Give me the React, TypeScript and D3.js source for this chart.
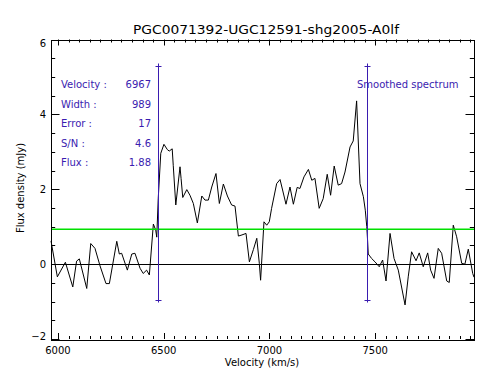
import React from "react";
import * as d3 from "d3";

const velocities = [5967, 5997, 6035, 6070, 6088, 6101, 6136, 6155, 6175, 6199, 6227, 6243, 6278, 6290, 6301, 6328, 6349, 6364, 6388, 6403, 6419, 6432, 6451, 6462, 6467, 6474, 6486, 6501, 6517, 6526, 6540, 6545, 6557, 6577, 6582, 6590, 6609, 6624, 6640, 6659, 6680, 6695, 6711, 6727, 6747, 6763, 6782, 6801, 6821, 6837, 6853, 6870, 6889, 6905, 6924, 6940, 6952, 6958, 6974, 6987, 6999, 7010, 7034, 7050, 7062, 7078, 7097, 7113, 7131, 7144, 7163, 7184, 7200, 7215, 7235, 7254, 7273, 7289, 7306, 7325, 7341, 7357, 7381, 7396, 7412, 7428, 7444, 7453, 7460, 7464, 7467, 7483, 7499, 7519, 7535, 7551, 7570, 7589, 7609, 7641, 7656, 7672, 7693, 7708, 7727, 7748, 7762, 7778, 7798, 7814, 7838, 7850, 7869, 7885, 7909, 7924, 7940, 7961, 7967];
const fluxes = [0.62, -0.34, 0.05, -0.61, 0.08, 0.14, -0.65, 0.55, 0.42, -0.05, -0.52, -0.52, 0.61, 0.27, 0.29, -0.16, 0.27, 0.29, -0.11, -0.25, -0.16, -0.29, 1.07, 0.91, 0.72, 1.75, 2.96, 3.2, 3.06, 3.02, 3.08, 2.64, 1.58, 2.6, 2.29, 1.78, 1.99, 1.84, 1.62, 1.1, 1.82, 1.71, 1.71, 2.06, 2.42, 1.62, 2.14, 1.82, 1.58, 1.55, 0.75, 0.78, 0.82, 0.06, 0.39, 0.69, 0.02, -0.43, 1.13, 1.04, 1.13, 1.49, 2.15, 2.26, 1.98, 1.6, 2.06, 1.6, 2.05, 2.02, 2.33, 2.53, 2.24, 2.29, 1.49, 1.75, 2.4, 1.84, 2.62, 2.11, 2.15, 2.46, 3.13, 3.29, 4.36, 2.15, 1.8, 1.44, 1.0, 0.62, 0.27, 0.15, 0.06, -0.07, 0.11, -0.45, 0.82, 0.15, -0.16, -1.09, -0.34, 0.33, 0.09, 0.3, -0.07, 0.3, -0.16, -0.38, 0.42, 0.29, -0.45, -0.49, 1.04, 0.73, 0.02, 0.0, 0.4, -0.25, -0.35];

const title = "PGC0071392-UGC12591-shg2005-A0lf";
const xDomain = [5967, 7967];
const yDomain = [-2, 6];
const xTickLabels = [6000, 6500, 7000, 7500];
const yTickLabels = [-2, 0, 2, 4, 6];
const infoLabels = ["Velocity :", "Width :", "Error :", "S/N :", "Flux :"];
const infoValues = ["6967", "989", "17", "4.6", "1.88"];
const centerVelocity = 6967;
const widthVelocity = 989;
const markerRange = [-0.95, 5.3];
const noiseLevel = 0.934;

const BLUE = "#3a1cb0";
const GREEN = "#00e000";
const FONT = "DejaVu Sans, sans-serif";

const px = (v: number) => Math.round(v) + 0.5;

export default function App() {
  const left = 51, right = 474, top = 39.5, bottom = 339;
  const x = d3.scaleLinear().domain(xDomain).range([left, right]);
  const y = d3.scaleLinear().domain(yDomain).range([bottom, top]);
  const line = d3.line<number>().x((_, i) => x(velocities[i])).y((d) => y(d));

  const xMinor = d3.range(6000, 7967, 50);
  const yMinor = d3.range(-2, 6.01, 0.5);
  const markers = [centerVelocity - widthVelocity / 2, centerVelocity + widthVelocity / 2];
  const gy = Math.round(y(noiseLevel));

  return (
    <svg width={504} height={391} style={{ position: "absolute", left: 0, top: 0, background: "#fff" }} fontFamily={FONT}>
      <rect x={0} y={0} width={504} height={391} fill="#fff" />
      <text x={266} y={33.5} fontSize={12.5} textAnchor="middle" textLength={266} lengthAdjust="spacingAndGlyphs">{title}</text>

      {/* spectrum */}
      <path d={line(fluxes) || ""} fill="none" stroke="#000" strokeWidth={1} />

      {/* zero line and noise line */}
      <line x1={left} x2={right} y1={px(y(0))} y2={px(y(0))} stroke="#000" strokeWidth={1} />
      <rect x={left} y={gy - 0.5} width={right - left} height={1.5} fill={GREEN} />

      {/* markers */}
      {markers.map((v, i) => (
        <g key={i} stroke={BLUE} strokeWidth={1}>
          <line x1={px(x(v))} x2={px(x(v))} y1={px(y(markerRange[1])) - 3} y2={px(y(markerRange[0])) + 2} />
          <line x1={px(x(v)) - 3} x2={px(x(v)) + 3} y1={px(y(markerRange[1]))} y2={px(y(markerRange[1]))} />
          <line x1={px(x(v)) - 3} x2={px(x(v)) + 3} y1={px(y(markerRange[0]))} y2={px(y(markerRange[0]))} />
        </g>
      ))}

      {/* frame */}
      <rect x={px(left)} y={px(top)} width={Math.round(right - left)} height={Math.round(bottom - top)} fill="none" stroke="#000" strokeWidth={1} />

      {/* ticks */}
      <g stroke="#000" strokeWidth={1}>
        {xMinor.map((v) => {
          const len = v % 500 === 0 ? 6 : 3;
          return (
            <g key={v}>
              <line x1={px(x(v))} x2={px(x(v))} y1={bottom} y2={bottom - len} />
              <line x1={px(x(v))} x2={px(x(v))} y1={top} y2={top + len} />
            </g>
          );
        })}
        {yMinor.map((v) => {
          const len = Math.abs(v % 2) < 1e-6 ? 8.5 : 4.2;
          return (
            <g key={v}>
              <line x1={left} x2={left + len} y1={px(y(v))} y2={px(y(v))} />
              <line x1={right} x2={right - len} y1={px(y(v))} y2={px(y(v))} />
            </g>
          );
        })}
      </g>

      {xTickLabels.map((v) => (
        <text key={v} x={x(v)} y={354} fontSize={10} textAnchor="middle">{v}</text>
      ))}
      {yTickLabels.map((v) => {
        const cy = Math.min(Math.max(y(v), top + 4), bottom - 3);
        return (
          <text key={v} x={46} y={cy + 3.5} fontSize={10} textAnchor="end">{v < 0 ? "\u2212" + Math.abs(v) : v}</text>
        );
      })}

      <text x={262} y={366} fontSize={10} textAnchor="middle">Velocity (km/s)</text>
      <text transform="translate(24,188) rotate(-90)" fontSize={10} textAnchor="middle">Flux density (mJy)</text>

      {infoLabels.map((lab, i) => (
        <g key={lab} fill={BLUE} fontSize={10}>
          <text x={61} y={88 + i * 19.6}>{lab}</text>
          <text x={151} y={88 + i * 19.6} textAnchor="end">{infoValues[i]}</text>
        </g>
      ))}
      <text x={357} y={88} fontSize={10} fill={BLUE}>Smoothed spectrum</text>
    </svg>
  );
}
